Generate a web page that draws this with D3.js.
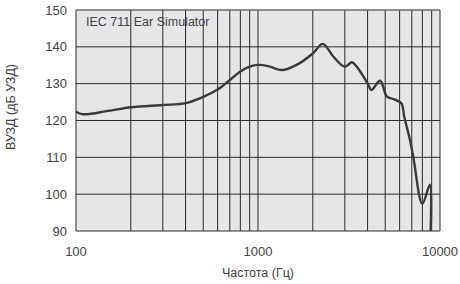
<!DOCTYPE html>
<html><head><meta charset="utf-8">
<script src="https://cdn.jsdelivr.net/npm/d3@7"></script>
<style>body{margin:0;background:#fff}svg{display:block}text{font-family:"Liberation Sans",Arial,sans-serif;fill:#444}</style>
</head><body>
<script>
const freq = [100,109,150,200,300,400,500,600,700,800,900,1000,1150,1350,1630,2000,2270,2600,3000,3280,3490,4000,4200,4690,5110,5560,6130,6360,6840,7140,8000,8800,8880];
const spl  = [122.4,121.7,122.6,123.6,124.2,124.7,126.4,128.4,131,133.3,134.6,135.1,134.7,133.7,135.1,138.2,140.8,137.3,134.6,135.8,134.6,130.1,128.3,130.8,126.5,125.8,124.7,121,114.7,110,97.4,102.6,90];
const xTicks = [100,1000,10000];
const xGrid = [200,300,400,500,600,700,800,900,1000,2000,3000,4000,5000,6000,7000,8000,9000,10000];
const yTicks = [90,100,110,120,130,140,150];
const title = "IEC 711 Ear Simulator";
const xLabel = "Частота (Гц)";
const yLabel = "ВУЗД (дБ УЗД)";

const W=460,H=284, m={l:76,r:20,t:10,b:53};
const svg=d3.select("body").append("svg").attr("width",W).attr("height",H);
const x=d3.scaleLog().domain([100,10000]).range([m.l,W-m.r]);
const y=d3.scaleLinear().domain([90,150]).range([H-m.b,m.t]);

svg.append("rect").attr("x",x(100)).attr("y",y(150)).attr("width",x(10000)-x(100)).attr("height",y(90)-y(150)).attr("fill","#e6e6e8");

const g=svg.append("g");
g.selectAll(".vg").data(xGrid).join("line").attr("x1",d=>x(d)).attr("x2",d=>x(d)).attr("y1",y(150)).attr("y2",y(90)).attr("stroke","#2a2a2a").attr("stroke-width",1);
g.selectAll(".hg").data(yTicks).join("line").attr("x1",x(100)).attr("x2",x(10000)).attr("y1",d=>y(d)).attr("y2",d=>y(d)).attr("stroke","#2a2a2a").attr("stroke-width",1);
svg.append("line").attr("x1",x(100)).attr("x2",x(100)).attr("y1",y(150)).attr("y2",y(90)).attr("stroke","#2a2a2a");
svg.append("line").attr("x1",x(100)).attr("x2",x(10000)).attr("y1",y(150)).attr("y2",y(150)).attr("stroke","#888");

svg.append("text").attr("x",86).attr("y",26).attr("font-size",12.5).text(title);

const line=d3.line().x((d,i)=>x(freq[i])).y(d=>y(d)).curve(d3.curveCatmullRom.alpha(0.5));
svg.append("path").datum(spl).attr("d",line).attr("fill","none").attr("stroke","#3a3a3a").attr("stroke-width",2.4);

svg.selectAll(".yt").data(yTicks).join("text").attr("x",67).attr("y",d=>y(d)).attr("dy","0.35em").attr("text-anchor","end").attr("font-size",13).text(d=>d);
svg.selectAll(".xt").data(xTicks).join("text").attr("x",d=>x(d)).attr("y",256).attr("text-anchor","middle").attr("font-size",13).text(d=>d);
svg.append("text").attr("x",258).attr("y",277).attr("text-anchor","middle").attr("font-size",12.5).text(xLabel);
svg.append("text").attr("transform","translate(15,107) rotate(-90)").attr("text-anchor","middle").attr("font-size",12.5).text(yLabel);
</script>
</body></html>
